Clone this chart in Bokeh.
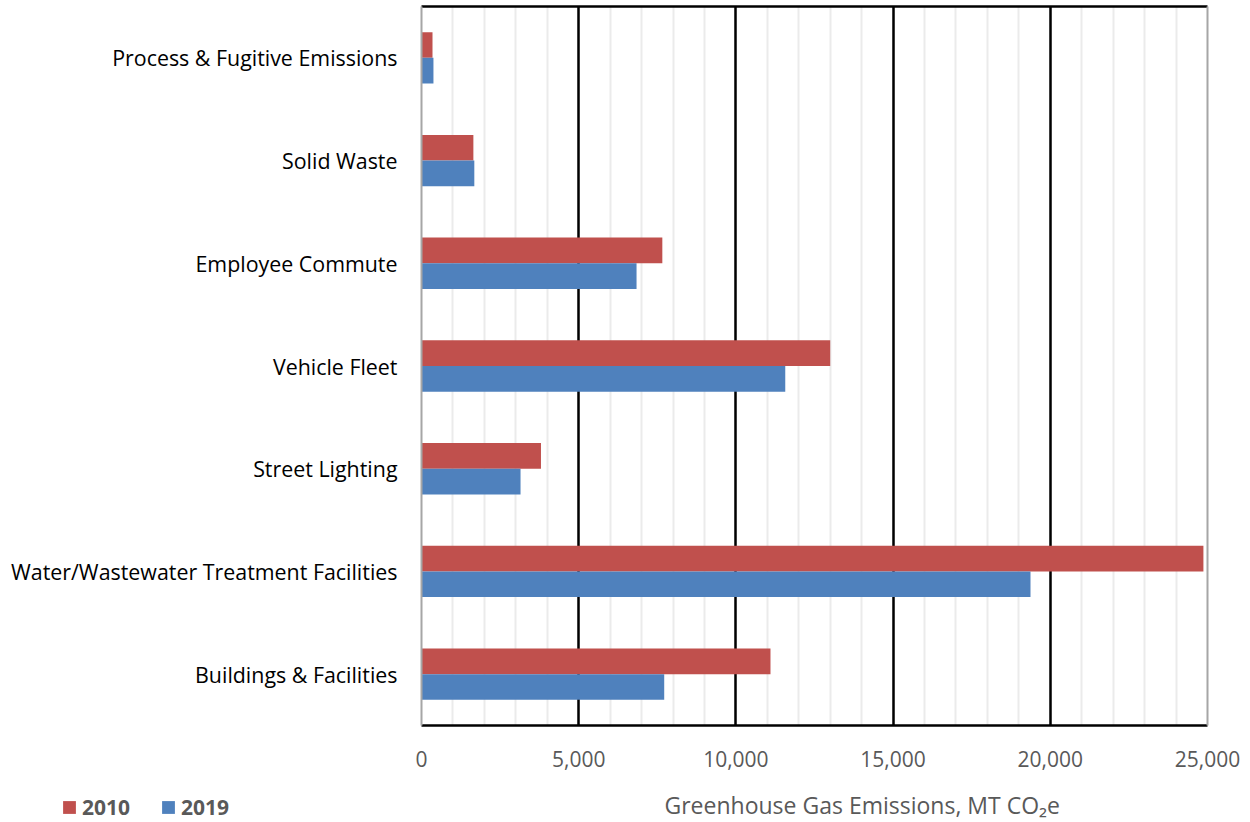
from bokeh.plotting import figure
from bokeh.layouts import column, row
from bokeh.models import (ColumnDataSource, FactorRange, SingleIntervalTicker, NumeralTickFormatter,
                          LinearAxis, FixedTicker, Legend, LegendItem, Label, Range1d)
from bokeh.transform import dodge
from bokeh.embed import file_html
from bokeh.resources import INLINE

# Data (bottom to top)
categories = ["Buildings & Facilities", "Water/Wastewater Treatment Facilities", "Street Lighting",
              "Vehicle Fleet", "Employee Commute", "Solid Waste", "Process & Fugitive Emissions"]
values_2010 = [11100, 24870, 3800, 13000, 7660, 1650, 350]
values_2019 = [7720, 19370, 3150, 11570, 6840, 1680, 380]
series_names = ["2010", "2019"]
colors = ["#C0504D", "#4F81BD"]
x_label = "Greenhouse Gas Emissions, MT CO\u2082e"

FONT = "Open Sans"
src = ColumnDataSource(dict(cat=categories, v2010=values_2010, v2019=values_2019))

p = figure(width=1250, height=780, y_range=FactorRange(factors=categories, range_padding=0),
           x_range=(0, 25000), output_backend="svg", toolbar_location=None,
           min_border_left=421, min_border_right=43, min_border_top=6, min_border_bottom=55,
           x_axis_location=None)
p.outline_line_color = None
p.background_fill_color = "white"

r1 = p.hbar(y=dodge("cat", 0.125, range=p.y_range), right="v2010", left=0, height=0.25,
            source=src, fill_color=colors[0], line_color=None)
r2 = p.hbar(y=dodge("cat", -0.125, range=p.y_range), right="v2019", left=0, height=0.25,
            source=src, fill_color=colors[1], line_color=None)

ticker = SingleIntervalTicker(interval=5000, num_minor_ticks=5)
xaxis = LinearAxis(ticker=ticker, formatter=NumeralTickFormatter(format="0,0"))
xaxis.axis_line_color = "black"
xaxis.axis_line_width = 2.5
xaxis.major_tick_line_color = None
xaxis.minor_tick_line_color = None
xaxis.major_label_text_font = FONT
xaxis.major_label_text_font_size = "21px"
xaxis.major_label_text_color = "#595959"
xaxis.major_label_standoff = 19
p.add_layout(xaxis, "below")

top = LinearAxis(ticker=FixedTicker(ticks=[]), major_tick_line_color=None,
                 minor_tick_line_color=None, axis_line_color="black", axis_line_width=2.5)
p.add_layout(top, "above")
right = LinearAxis(ticker=FixedTicker(ticks=[]), major_tick_line_color=None,
                   minor_tick_line_color=None, axis_line_color="black", axis_line_width=2.5)
p.add_layout(right, "right")

p.yaxis.axis_line_color = "#A6A6A6"
p.yaxis.axis_line_width = 2
p.yaxis.major_tick_line_color = None
p.yaxis.minor_tick_line_color = None
p.yaxis.major_label_text_font = FONT
p.yaxis.major_label_text_font_size = "21.4px"
p.yaxis.major_label_text_color = "black"
p.yaxis.major_label_standoff = 18

p.xgrid.ticker = ticker
p.xgrid.grid_line_color = "black"
p.xgrid.grid_line_width = 2.5
p.xgrid.minor_grid_line_color = "#EBEBEB"
p.xgrid.minor_grid_line_width = 2
p.ygrid.grid_line_color = None

# Bottom strip: legend and x-axis title
q = figure(width=1250, height=42, x_range=Range1d(0, 1), y_range=Range1d(0, 1),
           output_backend="svg", toolbar_location=None,
           min_border_left=0, min_border_right=0, min_border_top=0, min_border_bottom=0,
           x_axis_location=None, y_axis_location=None)
q.outline_line_color = None
q.xgrid.visible = False
q.ygrid.visible = False
key = ColumnDataSource(dict(y=[0, 0], w=[0, 0]))
e1 = q.hbar(y="y", right="w", left=0, height=0.01, fill_color=colors[0], line_color=None,
            source=key)
e2 = q.hbar(y="y", right="w", left=0, height=0.01, fill_color=colors[1], line_color=None,
            source=key)

lbl = Label(x=664, y=2, x_units="screen", y_units="screen", text=x_label,
            text_font=FONT, text_font_size="23px", text_color="#595959")
q.add_layout(lbl)

legend = Legend(items=[LegendItem(label=series_names[0], renderers=[e1], index=0),
                       LegendItem(label=series_names[1], renderers=[e2], index=1)],
                orientation="horizontal", location=(61, 1),
                label_text_font=FONT, label_text_font_size="21px", label_text_font_style="bold",
                label_text_color="#595959", background_fill_alpha=0, border_line_color=None,
                glyph_width=16, glyph_height=16, spacing=30, label_standoff=5, padding=0, margin=0)
q.add_layout(legend, "center")

layout = column(p, row(q), spacing=0)
open("out.html", "w").write(file_html(layout, INLINE))
